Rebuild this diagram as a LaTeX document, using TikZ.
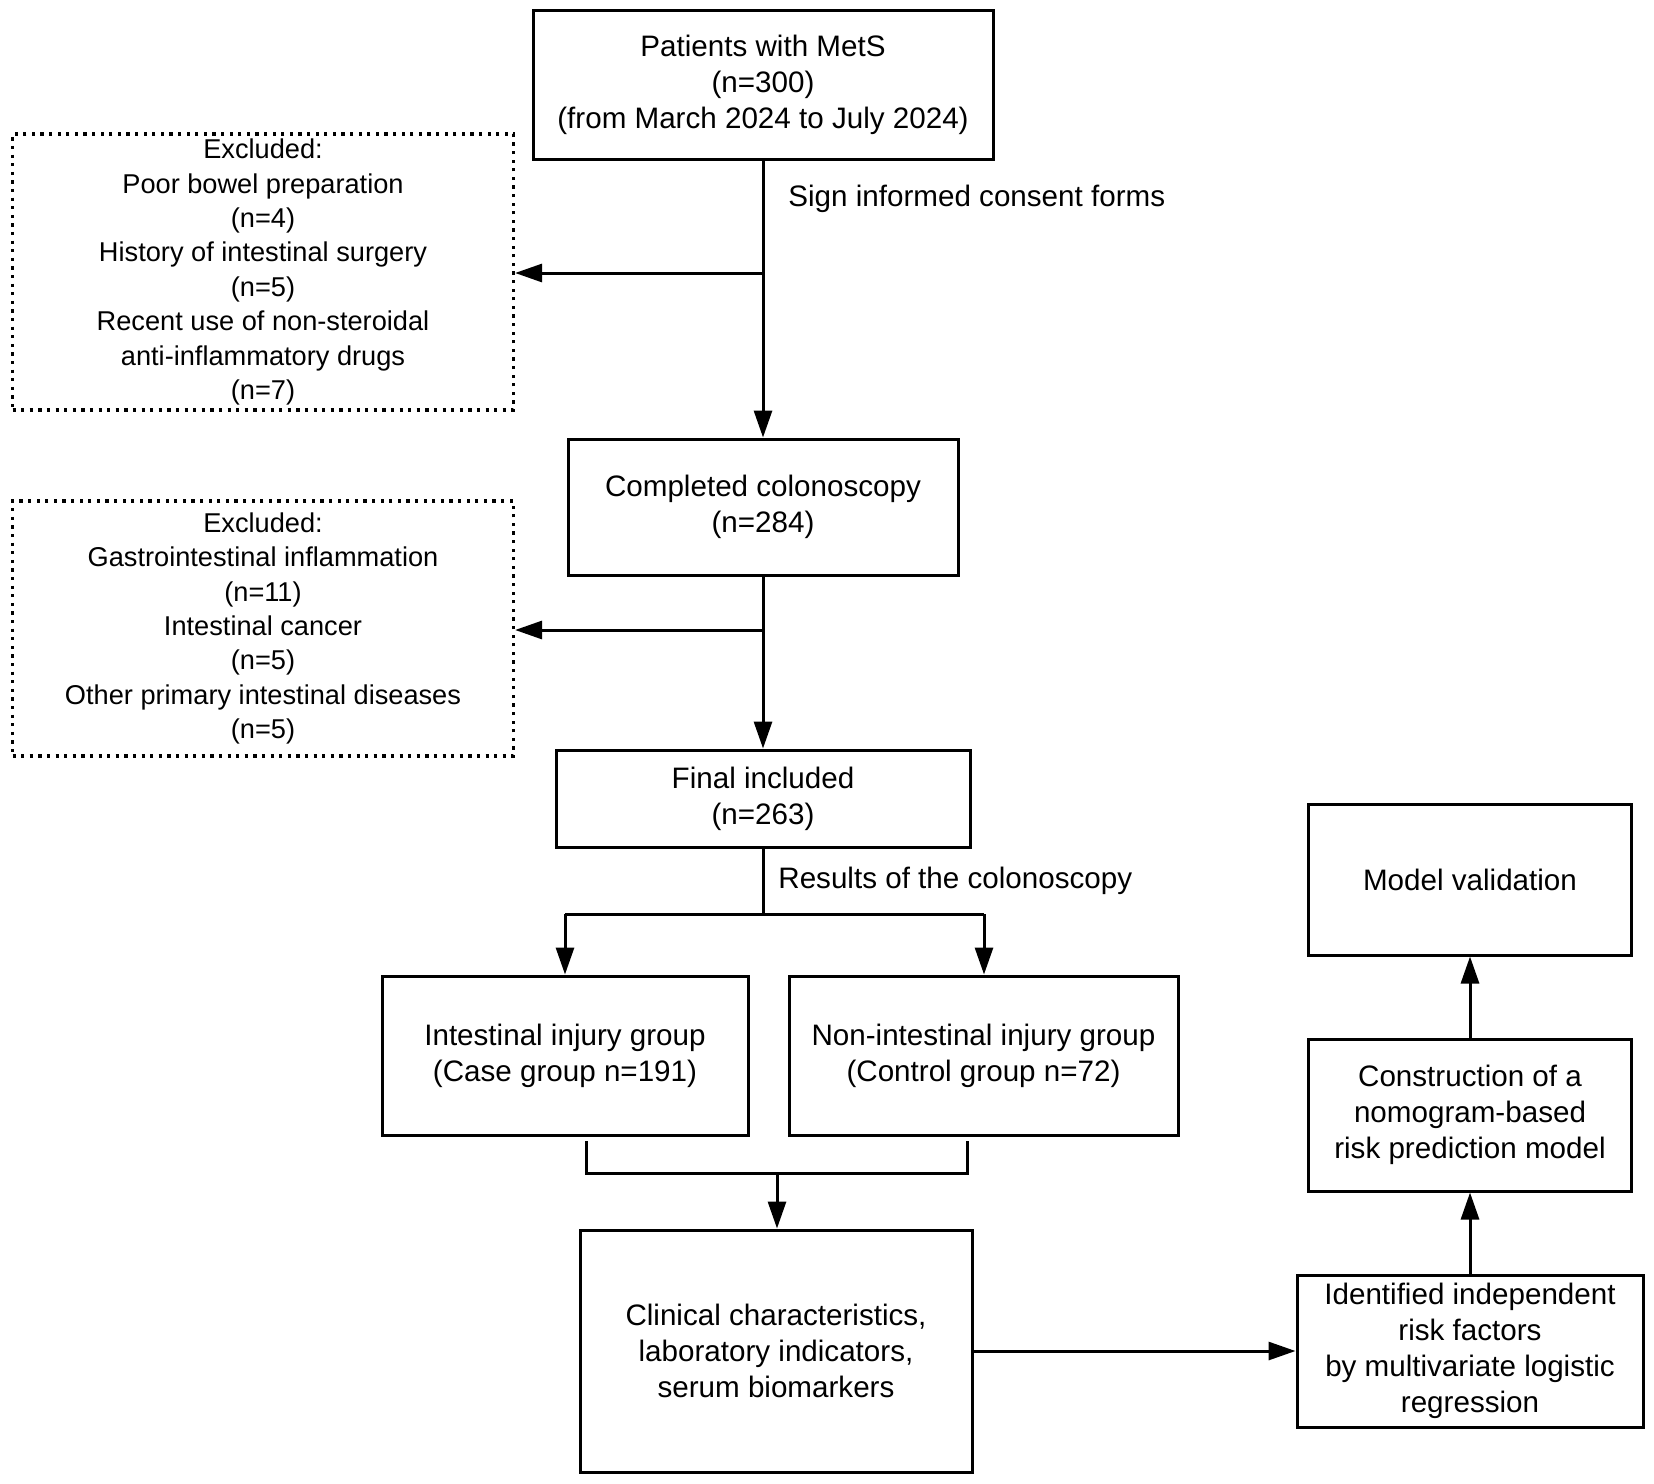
\documentclass[tikz,border=0pt]{standalone}
\usepackage{fontspec}
\setmainfont{Liberation Sans}
\usetikzlibrary{arrows.meta}
\tikzset{
  mainbox/.style={draw, line width=1.5pt, rectangle, inner sep=0pt, align=center, font=\fontsize{14.8pt}{18pt}\selectfont},
  exbox/.style={draw, line width=1.6pt, dash pattern=on 1.6pt off 2.7pt, line cap=butt, rectangle, inner sep=0pt, align=center, font=\fontsize{13.6pt}{17.2pt}\selectfont},
  arr/.style={line width=1.5pt, -{Triangle[length=13.5pt,width=9pt]}},
  ln/.style={line width=1.5pt},
  lbl/.style={anchor=west, inner sep=0pt, font=\fontsize{14.8pt}{18pt}\selectfont}
}
\begin{document}
\begin{tikzpicture}[x=0.5pt,y=-0.5pt]
\useasboundingbox (0,0) rectangle (1654,1483);
\node[mainbox, minimum width=230pt, minimum height=74.5pt] (p1) at (763,85) {Patients with MetS\\(n=300)\\(from March 2024 to July 2024)};
\node[exbox, minimum width=250.5pt, minimum height=138pt] (ex1) at (263,272) {Excluded:\\Poor bowel preparation\\(n=4)\\History of intestinal surgery\\(n=5)\\Recent use of non-steroidal\\anti-inflammatory drugs\\(n=7)};
\node[mainbox, minimum width=195pt, minimum height=68pt] (c2) at (763,507) {Completed colonoscopy\\(n=284)};
\node[exbox, minimum width=250.5pt, minimum height=127.5pt] (ex2) at (263,628.5) {Excluded:\\Gastrointestinal inflammation\\(n=11)\\Intestinal cancer\\(n=5)\\Other primary intestinal diseases\\(n=5)};
\node[mainbox, minimum width=207pt, minimum height=48.5pt] (f3) at (763,798.5) {Final included\\(n=263)};
\node[mainbox, minimum width=183pt, minimum height=79.5pt] (g4) at (565,1055.5) {Intestinal injury group\\(Case group n=191)};
\node[mainbox, minimum width=194.5pt, minimum height=79.5pt] (g5) at (983.5,1055.5) {Non-intestinal injury group\\(Control group n=72)};
\node[mainbox, minimum width=196pt, minimum height=121pt] (cl6) at (776,1351) {Clinical characteristics,\\laboratory indicators,\\serum biomarkers};
\node[mainbox, minimum width=173pt, minimum height=76pt] (id7) at (1470,1351) {Identified independent\\risk factors\\by multivariate logistic\\regression};
\node[mainbox, minimum width=161.5pt, minimum height=76pt] (co8) at (1470,1115) {Construction of a\\nomogram-based\\risk prediction model};
\node[mainbox, minimum width=161.5pt, minimum height=75.5pt] (mv9) at (1470,879.5) {Model validation};

\node[lbl] (l1) at (788,199) {Sign informed consent forms};
\node[lbl] (l2) at (778,881) {Results of the colonoscopy};

\coordinate (b1) at (763,273);
\coordinate (b2) at (763,630);
\coordinate (j) at (763,914);
\coordinate (jl) at (565,914);
\coordinate (jr) at (984,914);
\coordinate (k1) at (586,1141);
\coordinate (k2) at (586,1173);
\coordinate (k3) at (967,1173);
\coordinate (k4) at (967,1141);
\coordinate (km) at (777,1173);

\draw[arr] (p1.south) -- (c2.north);
\draw[arr] (b1) -- (b1 -| ex1.east);
\draw[arr] (c2.south) -- (f3.north);
\draw[arr] (b2) -- (b2 -| ex2.east);
\draw[ln] (f3.south) -- (j);
\draw[ln] (jl) -- (jr);
\draw[arr] (jl) -- (g4.north);
\draw[arr] (jr) -- (jr |- g5.north);
\draw[ln] (k1) -- (k2) -- (k3) -- (k4);
\draw[arr] (km) -- (km |- cl6.north);
\draw[arr] (cl6.east) -- (id7.west);
\draw[arr] (id7.north) -- (co8.south);
\draw[arr] (co8.north) -- (mv9.south);
\end{tikzpicture}
\end{document}
